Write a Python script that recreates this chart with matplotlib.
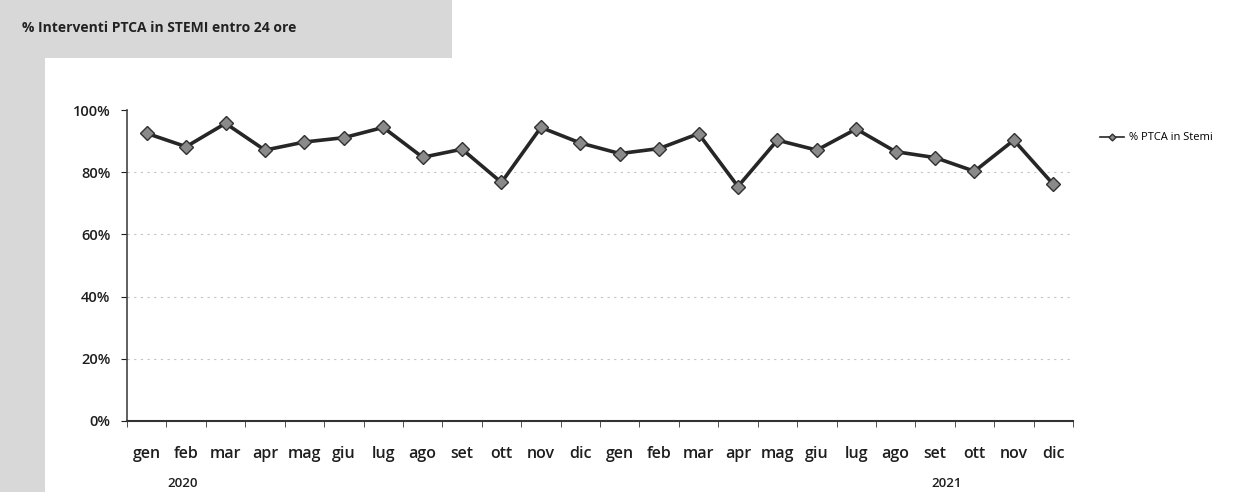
import numpy as np
import matplotlib
matplotlib.use("Agg")
import matplotlib.pyplot as plt
from matplotlib.patches import Rectangle
from matplotlib.ticker import PercentFormatter, FixedLocator

months = ["gen", "feb", "mar", "apr", "mag", "giu", "lug", "ago", "set", "ott", "nov", "dic"]
labels = months + months
years = ["2020", "2021"]
ptca_stemi = [92.5, 88.2, 95.7, 87.1, 89.7, 91.1, 94.4, 84.8, 87.4, 76.7, 94.4, 89.4,
              86.0, 87.6, 92.4, 75.4, 90.3, 87.1, 93.9, 86.6, 84.7, 80.3, 90.3, 76.1]

plt.rcParams["font.family"] = ["Open Sans", "DejaVu Sans"]

fig = plt.figure(figsize=(12.42, 4.92), dpi=100)
fig.patch.set_facecolor("white")

# grey frame behind title and along the left edge
fig.add_artist(Rectangle((0, 1 - 58 / 492), 452 / 1242, 58 / 492, transform=fig.transFigure,
                         facecolor="#d8d8d8", edgecolor="none", zorder=0))
fig.add_artist(Rectangle((0, 0), 45 / 1242, 1, transform=fig.transFigure,
                         facecolor="#d8d8d8", edgecolor="none", zorder=0))
fig.text(22 / 1242, 1 - 28 / 492, "% Interventi PTCA in STEMI entro 24 ore",
         fontsize=10, fontweight="bold", color="#222222", va="center", ha="left")

ax = fig.add_axes([127 / 1242, 1 - 421 / 492, 946 / 1242, 311 / 492])
ax.set_facecolor("none")
x = np.arange(len(ptca_stemi))
vals = np.array(ptca_stemi) / 100
line, = ax.plot(x, vals, color="#262626", lw=2.6, marker="D", markersize=7,
                markerfacecolor="#8a8a8a", markeredgecolor="#303030", markeredgewidth=1.0,
                label="% PTCA in Stemi", zorder=3)

ax.set_xlim(-0.5, len(ptca_stemi) - 0.5)
ax.set_ylim(0, 1)
ax.yaxis.set_major_locator(FixedLocator([0, 0.2, 0.4, 0.6, 0.8, 1.0]))
ax.yaxis.set_major_formatter(PercentFormatter(1.0, decimals=0))
for gy in [0.2, 0.4, 0.6, 0.8]:
    ax.axhline(gy, color="#c4c4c4", lw=0.8, ls=(0, (2, 4)), zorder=1)

ax.set_xticks(x)
ax.set_xticklabels(labels)
ax.set_xticks(np.arange(-0.5, len(ptca_stemi)), minor=True)
ax.tick_params(axis="x", which="major", length=0, pad=18, labelsize=11.5, colors="#1e1e1e")
ax.tick_params(axis="x", which="minor", length=4, direction="out", color="#333333")
ax.tick_params(axis="y", length=4, direction="out", labelsize=10.5, colors="#1e1e1e",
               pad=8)
for lab in ax.get_xticklabels() + ax.get_yticklabels():
    lab.set_fontweight("semibold")

for s in ["top", "right"]:
    ax.spines[s].set_visible(False)
ax.spines["left"].set_color("#444444")
ax.spines["bottom"].set_color("#333333")
ax.spines["left"].set_linewidth(1.2)
ax.spines["bottom"].set_linewidth(1.5)

# year labels under the month row
ax.text(0.91, -0.2, years[0], transform=ax.get_xaxis_transform(), ha="center", va="center",
        fontsize=9.5, fontweight="semibold", color="#1e1e1e")
ax.text(20.3, -0.2, years[1], transform=ax.get_xaxis_transform(), ha="center", va="center",
        fontsize=9.5, fontweight="semibold", color="#1e1e1e")

leg = fig.legend(handles=[line], loc="center left", bbox_to_anchor=(1090 / 1242, 1 - 138 / 492),
                 frameon=False, fontsize=8, handlelength=2.2, handletextpad=0.4, markerscale=0.5)
for h in leg.legend_handles:
    h.set_linewidth(1.2)

fig.savefig("out.png", dpi=100)
